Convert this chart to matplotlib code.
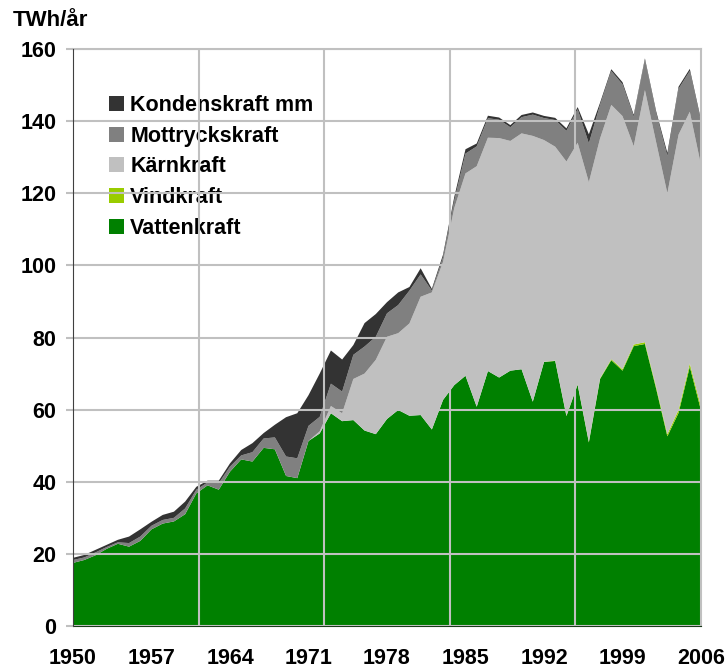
import matplotlib.pyplot as plt
import numpy as np
from matplotlib.patches import Patch

plt.rcParams["font.family"] = ["Liberation Sans", "DejaVu Sans"]
plt.rcParams["font.weight"] = "bold"

years = list(range(1950, 2007))

# Swedish electricity production, TWh/år
vatten = [17.5, 18.3, 19.6, 21.4, 22.8, 22.0, 23.6, 26.8, 28.4, 29.0,
          31.0, 36.8, 39.0, 37.8, 42.8, 46.2, 45.6, 49.4, 49.0, 41.6,
          41.0, 51.3, 53.4, 59.0, 56.8, 57.1, 54.2, 53.2, 57.4, 59.9,
          58.3, 58.5, 54.5, 62.7, 66.8, 69.4, 60.8, 70.7, 68.9, 70.8,
          71.2, 62.2, 73.2, 73.5, 58.2, 66.9, 50.9, 68.5, 73.7, 70.8,
          77.6, 78.2, 65.8, 52.6, 59.1, 71.9, 59.8]
vind = [0.0] * 42 + [0.05, 0.1, 0.1, 0.1, 0.15, 0.2, 0.3, 0.4,
                     0.45, 0.5, 0.55, 0.6, 0.85, 0.9, 1.0]
karn = [0.0] * 22 + [0.6, 2.0, 2.2, 11.4, 15.8, 20.6, 22.8, 21.3,
                     25.6, 32.8, 38.0, 38.3, 49.1, 56.1, 66.7, 64.7, 66.4, 63.7,
                     65.4, 73.7, 61.5, 59.3, 70.5, 67.0, 72.0, 66.5, 70.5, 70.2,
                     55.0, 69.9, 67.8, 66.8, 76.3, 69.8, 67.0]
mottryck = [0.8, 0.7, 0.8, 0.5, 0.4, 1.0, 1.2, 1.0, 1.0, 1.0,
            1.6, 1.0, 0.8, 1.8, 1.4, 1.1, 2.6, 2.6, 3.3, 5.4,
            5.5, 4.2, 4.0, 6.2, 6.0, 6.7, 7.5, 6.4, 6.5, 7.8,
            9.1, 6.2, 0.5, 1.3, 2.1, 5.5, 5.5, 5.4, 5.1, 3.8,
            4.5, 5.9, 6.1, 7.4, 8.5, 9.3, 10.8, 9.3, 9.4, 8.8,
            8.2, 8.3, 8.0, 10.3, 12.7, 11.3, 12.0]
kondens = [0.6, 0.7, 0.7, 0.6, 0.7, 1.8, 2.0, 1.1, 1.4, 1.7,
           1.9, 0.8, 0.5, 0.7, 0.9, 1.5, 2.5, 1.5, 3.5, 10.9,
           12.5, 8.5, 12.0, 9.2, 8.9, 2.7, 6.5, 6.3, 3.1, 3.5,
           1.0, 1.7, 0.5, 0.7, 1.0, 1.2, 0.8, 0.7, 0.6, 0.6,
           0.6, 0.6, 0.6, 0.6, 0.7, 0.6, 2.5, 0.6, 0.5, 0.6,
           0.5, 0.5, 0.6, 0.9, 0.6, 0.6, 0.6]

labels = ["Vattenkraft", "Vindkraft", "Kärnkraft", "Mottryckskraft", "Kondenskraft mm"]
colors = ["#008000", "#99cc00", "#c0c0c0", "#808080", "#333333"]

label_years = [1950, 1957, 1964, 1971, 1978, 1985, 1992, 1999, 2006]

fig = plt.figure(figsize=(7.28, 6.71), dpi=100)
ax = fig.add_axes([73 / 728, 1 - 626 / 671, 628 / 728, 577 / 671])

ax.stackplot(years, vatten, vind, karn, mottryck, kondens,
             colors=colors, labels=labels, linewidth=0)

ax.set_xlim(1950, 2006)
ax.set_ylim(0, 160)
ax.set_yticks(np.arange(0, 161, 20))
ax.set_xticks(label_years)
ax.set_xticks(np.linspace(1950, 2006, 6)[1:], minor=True)

ax.set_axisbelow(False)
ax.grid(True, which="major", axis="y", color="#c0c0c0", linewidth=1.5, zorder=3)
ax.grid(True, which="minor", axis="x", color="#c0c0c0", linewidth=1.5, zorder=3)

ax.tick_params(axis="y", which="major", length=5, width=1.5, color="#c0c0c0",
               labelsize=15.5, pad=7)
ax.tick_params(axis="x", which="both", length=0, labelsize=15.5, pad=16)
for lbl in ax.get_xticklabels() + ax.get_yticklabels():
    lbl.set_fontweight("bold")

for s in ["top", "right"]:
    ax.spines[s].set_color("#c0c0c0")
    ax.spines[s].set_linewidth(1.5)
ax.spines["left"].set_color("#404040")
ax.spines["bottom"].set_color("#1a3a1a")
ax.spines["left"].set_zorder(4)

handles = [Patch(facecolor=c, edgecolor="none") for c in colors][::-1]
leg = ax.legend(handles, labels[::-1], loc="upper left",
                bbox_to_anchor=(0.043, 0.935), frameon=False,
                prop={"size": 15.5, "weight": "bold"},
                handlelength=0.7, handleheight=0.7,
                handletextpad=0.3, labelspacing=0.45, borderaxespad=0)
leg.set_zorder(2)

fig.text(13 / 728, 1 - 21 / 671, "TWh/år", fontsize=16, fontweight="bold",
         va="center", ha="left")

fig.savefig("out.png", dpi=100)
